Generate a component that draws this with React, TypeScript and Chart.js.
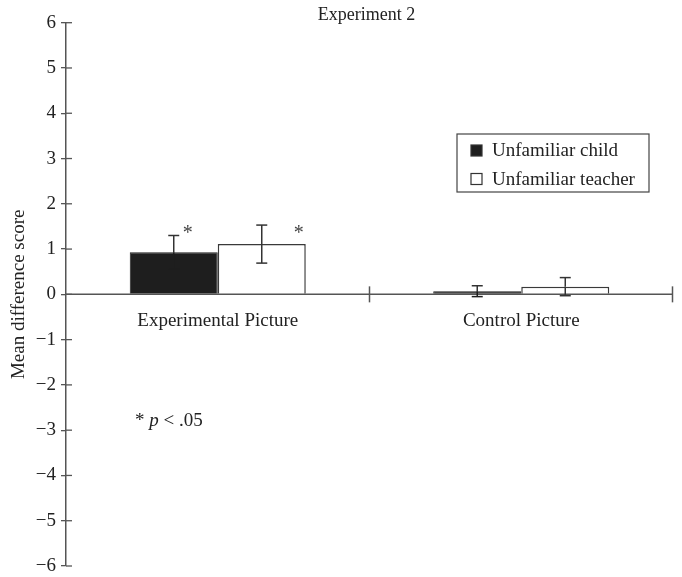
import React, { useEffect, useRef } from "react";
import { Chart, registerables } from "chart.js";

Chart.register(...registerables);

const categories = ["Experimental Picture", "Control Picture"];
const seriesLabels = ["Unfamiliar child", "Unfamiliar teacher"];
const childMeans = [0.93, 0.07];
const childErrors = [0.37, 0.12];
const teacherMeans = [1.11, 0.17];
const teacherErrors = [0.42, 0.2];
const childSignificant = [true, false];
const teacherSignificant = [true, false];
const yTickValues = [-6, -5, -4, -3, -2, -1, 0, 1, 2, 3, 4, 5, 6];
const chartTitle = "Experiment 2";
const yAxisTitle = "Mean difference score";
const noteStar = "* ";
const noteP = "p";
const noteRest = " < .05";

const FONT = '"Liberation Serif", "Times New Roman", Times, serif';
const TEXT = "#222222";
const AXIS = "#555555";
const DARK = "#1e1e1e";

const overlayPlugin = {
  id: "overlay",
  afterDatasetsDraw(chart: any) {
    const ctx = chart.ctx;
    const { left, right } = chart.chartArea;
    const ys = chart.scales.y;
    const xs = chart.scales.x;
    const y0 = ys.getPixelForValue(0);
    ctx.save();
    ctx.strokeStyle = AXIS;
    ctx.lineWidth = 1.3;
    const line = (x1: number, y1: number, x2: number, y2: number) => {
      ctx.beginPath();
      ctx.moveTo(x1, y1);
      ctx.lineTo(x2, y2);
      ctx.stroke();
    };
    // inner halves of y ticks
    for (const t of ys.ticks) {
      const py = ys.getPixelForValue(t.value);
      line(left, py, left + 6, py);
    }
    // zero line
    ctx.lineWidth = 1.5;
    line(left, y0, right, y0);
    // category boundary ticks
    for (const b of [0.5, 1.5]) {
      let px = xs.getPixelForValue(b);
      if (b === 1.5) px = Math.min(px, right - 0.5);
      line(px, y0 - 8, px, y0 + 8);
    }
    // error bars
    const errs = [childErrors, teacherErrors];
    const means = [childMeans, teacherMeans];
    const sigs = [childSignificant, teacherSignificant];
    const starOffset = [14, 37];
    ctx.lineWidth = 1.5;
    chart.data.datasets.forEach((ds: any, di: number) => {
      const meta = chart.getDatasetMeta(di);
      const lowerColor = di === 0 ? DARK : "#333333";
      meta.data.forEach((bar: any, j: number) => {
        const cx = bar.x;
        const mid = ys.getPixelForValue(means[di][j]);
        const hi = ys.getPixelForValue(means[di][j] + errs[di][j]);
        const lo = ys.getPixelForValue(means[di][j] - errs[di][j]);
        ctx.strokeStyle = "#333333";
        line(cx, hi, cx, mid);
        line(cx - 5.5, hi, cx + 5.5, hi);
        ctx.strokeStyle = lowerColor;
        line(cx, mid, cx, lo);
        line(cx - 5.5, lo, cx + 5.5, lo);
        if (sigs[di][j]) {
          ctx.fillStyle = "#444";
          ctx.font = `20px ${FONT}`;
          ctx.textAlign = "center";
          ctx.textBaseline = "alphabetic";
          ctx.fillText("*", cx + starOffset[di], ys.getPixelForValue(1.45) + 10);
        }
      });
    });
    // category labels
    ctx.fillStyle = TEXT;
    ctx.font = `19px ${FONT}`;
    ctx.textAlign = "center";
    ctx.textBaseline = "alphabetic";
    categories.forEach((c, i) => {
      ctx.fillText(c, xs.getPixelForValue(i), y0 + 32);
    });
    // title
    ctx.font = `18px ${FONT}`;
    ctx.fillText(chartTitle, (left + right) / 2 - 3, 20);
    // note
    ctx.textAlign = "left";
    ctx.font = `19px ${FONT}`;
    let nx = 135;
    const ny = ys.getPixelForValue(-2.9);
    ctx.fillText(noteStar, nx, ny);
    nx += ctx.measureText(noteStar).width;
    ctx.font = `italic 19px ${FONT}`;
    ctx.fillText(noteP, nx, ny);
    nx += ctx.measureText(noteP).width;
    ctx.font = `19px ${FONT}`;
    ctx.fillText(noteRest, nx, ny);
    // legend
    const lx = 457, ly = 134, lw = 192, lh = 58;
    ctx.strokeStyle = "#444";
    ctx.lineWidth = 1.2;
    ctx.strokeRect(lx, ly, lw, lh);
    chart.data.datasets.forEach((ds: any, di: number) => {
      const cy = ly + 16.5 + di * 28.5;
      ctx.fillStyle = ds.backgroundColor;
      ctx.fillRect(lx + 14, cy - 5.5, 11, 11);
      ctx.strokeStyle = "#333";
      ctx.lineWidth = 1.2;
      ctx.strokeRect(lx + 14, cy - 5.5, 11, 11);
      ctx.fillStyle = TEXT;
      ctx.font = `19px ${FONT}`;
      ctx.textAlign = "left";
      ctx.textBaseline = "middle";
      ctx.fillText(ds.label, lx + 35, cy + 1);
    });
    ctx.restore();
  },
};

export default function App() {
  const ref = useRef<HTMLCanvasElement>(null);
  useEffect(() => {
    if (!ref.current) return;
    const chart = new Chart(ref.current, {
      type: "bar",
      data: {
        labels: categories,
        datasets: [
          {
            label: seriesLabels[0],
            data: childMeans,
            backgroundColor: DARK,
            borderColor: DARK,
            borderWidth: 1,
            categoryPercentage: 0.58,
            barPercentage: 1,
          },
          {
            label: seriesLabels[1],
            data: teacherMeans,
            backgroundColor: "#ffffff",
            borderColor: "#3a3a3a",
            borderWidth: 1.5,
            categoryPercentage: 0.58,
            barPercentage: 1,
          },
        ],
      },
      options: {
        responsive: false,
        animation: false,
        layout: { padding: { top: 22.7, bottom: 11, left: 0, right: 9 } },
        plugins: {
          legend: { display: false },
          title: { display: false },
          tooltip: { enabled: false },
        },
        scales: {
          x: { display: false, offset: true },
          y: {
            min: -6,
            max: 6,
            afterBuildTicks: (scale: any) => {
              scale.ticks = yTickValues.map((v) => ({ value: v }));
            },
            afterFit: (scale: any) => {
              scale.width = 66;
              scale.paddingTop = 0;
              scale.paddingBottom = 0;
            },
            border: { display: true, color: AXIS, width: 1.5 },
            grid: {
              drawOnChartArea: false,
              drawTicks: true,
              tickLength: 5,
              color: AXIS,
              lineWidth: 1.3,
            },
            ticks: {
              autoSkip: false,
              font: { family: FONT, size: 19 },
              color: TEXT,
              padding: 5,
              callback: (v: any) =>
                Number(v) < 0 ? "\u2212" + Math.abs(Number(v)) : String(v),
            },
            title: {
              display: true,
              text: yAxisTitle,
              font: { family: FONT, size: 19 },
              color: TEXT,
              padding: { top: 8, bottom: 0 },
            },
          },
        },
      },
      plugins: [overlayPlugin],
    });
    return () => chart.destroy();
  }, []);
  return (
    <div style={{ position: "absolute", left: 0, top: 0, width: 682, height: 577, background: "#fff" }}>
      <canvas ref={ref} width={682} height={577} style={{ display: "block" }} />
    </div>
  );
}
